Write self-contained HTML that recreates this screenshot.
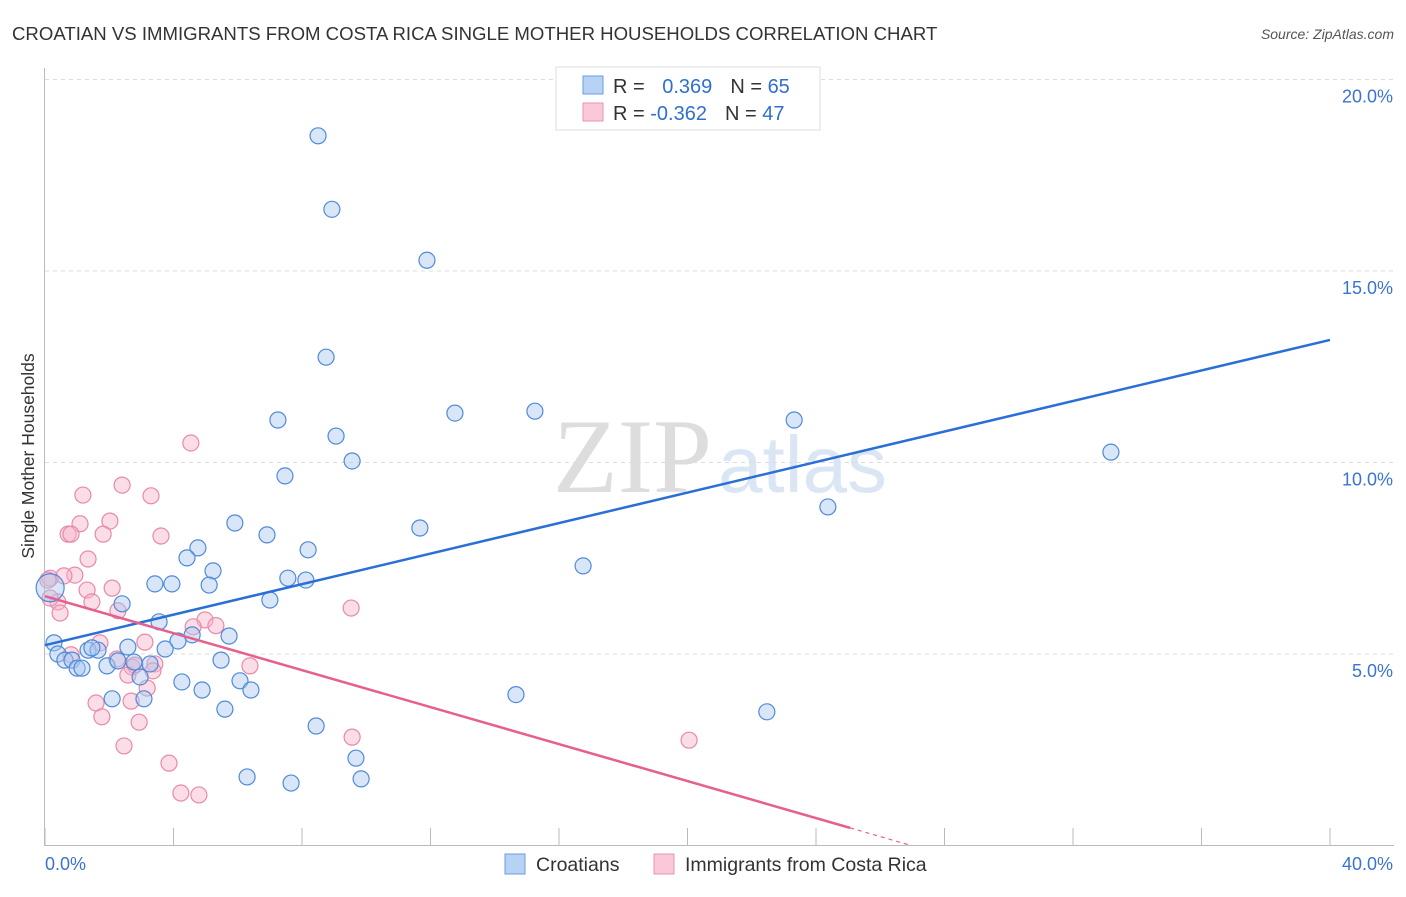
<!DOCTYPE html>
<html><head><meta charset="utf-8"><style>
body{margin:0;background:#fff;font-family:"Liberation Sans",sans-serif}
</style></head><body>
<svg id="c" width="1406" height="892" xmlns="http://www.w3.org/2000/svg">
<text x="12" y="40" font-size="18.6" fill="#333">CROATIAN VS IMMIGRANTS FROM COSTA RICA SINGLE MOTHER HOUSEHOLDS CORRELATION CHART</text>
<text x="1394" y="39" font-size="14" fill="#555" font-style="italic" text-anchor="end">Source: ZipAtlas.com</text>
<text x="712" y="492" font-size="106" fill="#ddd" font-family="Liberation Serif" text-anchor="end">ZIP</text>
<text x="718" y="492" font-size="80" fill="#dbe6f5">atlas</text>
<g id="grid"></g><g id="axes"></g><g id="pts"></g><g id="trend"></g>
<text transform="translate(34,456) rotate(-90)" font-size="17.5" fill="#333" text-anchor="middle">Single Mother Households</text>
<g>
<rect x="556" y="67" width="264" height="63" fill="#fff" stroke="#ddd"/>
<rect x="583" y="76" width="20" height="18" fill="#b8d2f5" stroke="#6a9ee0"/>
<rect x="583" y="103" width="20" height="18" fill="#fac8d8" stroke="#ea94b2"/>
<text x="613" y="93" font-size="20" fill="#333">R = <tspan fill="#2f6fd0" dx="12">0.369</tspan><tspan fill="#333" dx="18">N = </tspan><tspan fill="#2f6fd0">65</tspan></text>
<text x="613" y="120" font-size="20" fill="#333">R = <tspan fill="#2f6fd0">-0.362</tspan><tspan fill="#333" dx="18">N = </tspan><tspan fill="#2f6fd0">47</tspan></text>
</g>
<g>
<rect x="505" y="854" width="20" height="20" fill="#b8d2f5" stroke="#6a9ee0"/>
<text x="536" y="871" font-size="19.5" fill="#333">Croatians</text>
<rect x="654" y="854" width="20" height="20" fill="#fac8d8" stroke="#ea94b2"/>
<text x="685" y="871" font-size="19.5" fill="#333">Immigrants from Costa Rica</text>
</g>
</svg>
<script>
const yTicks=[5,10,15,20];
const yTickLabels=["5.0%","10.0%","15.0%","20.0%"];
const xTickLabels=["0.0%","40.0%"];
const blueX=[8.50,8.93,11.89,8.75,12.76,15.25,23.32,7.25,9.06,9.56,33.18,7.47,24.37,11.67,5.91,6.91,4.76,4.42,8.19,16.75,5.23,7.56,8.12,3.42,3.95,5.11,7.00,2.40,3.55,5.73,4.58,4.14,3.74,2.58,0.28,0.40,1.34,1.65,1.46,0.62,0.84,1.00,1.15,1.93,2.27,2.77,3.27,5.48,2.96,4.26,6.07,6.41,4.89,2.09,3.08,14.66,5.60,22.47,8.44,9.68,6.29,7.66,9.84,0.16];
const blueY=[18.53,16.61,15.28,12.75,11.29,11.34,11.11,11.11,10.69,10.04,10.27,9.65,8.84,8.29,8.42,8.11,7.77,7.51,7.72,7.30,7.17,6.98,6.93,6.83,6.83,6.80,6.41,6.31,5.84,5.47,5.50,5.34,5.13,5.18,5.29,5.00,5.10,5.10,5.16,4.84,4.84,4.63,4.63,4.69,4.82,4.79,4.74,4.84,4.40,4.27,4.30,4.06,4.06,3.83,3.83,3.94,3.56,3.49,3.12,2.28,1.79,1.63,1.74,6.73];
const pinkX=[4.54,1.18,3.30,2.40,1.09,2.02,0.72,0.81,1.81,3.61,1.34,0.16,0.93,0.59,2.09,1.31,1.46,2.27,0.40,0.47,9.53,4.98,5.32,4.61,3.11,1.71,0.81,2.24,2.71,3.42,2.80,2.58,3.36,6.38,3.18,1.59,2.68,1.77,2.93,9.56,20.05,2.46,3.86,4.23,4.79,0.16,0.09];
const pinkY=[10.51,9.15,9.13,9.41,8.40,8.47,8.13,8.13,8.13,8.08,7.48,6.98,7.06,7.04,6.72,6.67,6.36,6.13,6.36,6.07,6.20,5.89,5.74,5.71,5.31,5.29,4.98,4.87,4.66,4.74,4.71,4.45,4.56,4.69,4.11,3.72,3.77,3.36,3.22,2.83,2.75,2.60,2.15,1.37,1.32,6.46,6.93];
const blueTrend=[5.23,13.2];
const pinkTrend=[6.51,0.46];
const pinkSolidEnd=25.06;
const sx=v=>45+v*32.125, sy=v=>845.5-v*38.3;
const NS="http://www.w3.org/2000/svg";
function mk(p,t,a){const e=document.createElementNS(NS,t);for(const k in a)e.setAttribute(k,a[k]);document.getElementById(p).appendChild(e);return e;}
yTicks.forEach((t,i)=>{
 const l=mk('grid','line',{x1:45,x2:1394,y1:sy(t),y2:sy(t),stroke:'#ddd','stroke-dasharray':'4,4'});
 
 
 const tx=mk('grid','text',{x:1393,y:sy(t)+23,'font-size':18,fill:'#3a74d0','text-anchor':'end'});tx.textContent=yTickLabels[i];
 
 
});
const topGrid=mk('grid','line',{x1:45,x2:1394,y1:79.5,y2:79.5,stroke:'#ddd','stroke-dasharray':'4,4'});


const ya=mk('axes','line',{x1:44.5,x2:44.5,y1:68,y2:846,stroke:'#bbb'});


const xa=mk('axes','line',{x1:45,x2:1394,y1:845.5,y2:845.5,stroke:'#bbb'});


for(let i=0;i<=10;i++){const t=mk('axes','line',{x1:sx(i*4),x2:sx(i*4),y1:828,y2:846,stroke:'#bbb'});
 
 }
[[45,'start'],[1393,'end']].forEach((d,i)=>{const t=mk('axes','text',{x:d[0],y:870,'font-size':18,fill:'#3a74d0','text-anchor':d[1]});t.textContent=xTickLabels[i];
 
 });
function pts(X,Y,f,s,name){X.forEach((x,i)=>{const big=(name==='croatian-point'&&i===X.length-1);
 const c=mk('pts','circle',{cx:sx(x),cy:sy(Y[i]),r:big?14:8,fill:f,'fill-opacity':0.45,stroke:s,'stroke-width':1.2});
 
 });}
pts(pinkX,pinkY,'#f6b4c9','#e889a9','costa-rica-point');
pts(blueX,blueY,'#a9c8f0','#4f8ad8','croatian-point');
const bl=mk('trend','line',{x1:sx(0),y1:sy(blueTrend[0]),x2:sx(40),y2:sy(blueTrend[1]),stroke:'#2a6fd6','stroke-width':2.5});


const pk=(pinkTrend[0]-pinkTrend[1])/pinkSolidEnd, xEnd=pinkTrend[0]/pk;
const pl=mk('trend','line',{x1:sx(0),y1:sy(pinkTrend[0]),x2:sx(pinkSolidEnd),y2:sy(pinkTrend[1]),stroke:'#e5608e','stroke-width':2.5});


const pd=mk('trend','line',{x1:sx(pinkSolidEnd),y1:sy(pinkTrend[1]),x2:sx(xEnd),y2:sy(0),stroke:'#e5608e','stroke-width':1.2,'stroke-dasharray':'4,4'});


</script>
</body></html>
